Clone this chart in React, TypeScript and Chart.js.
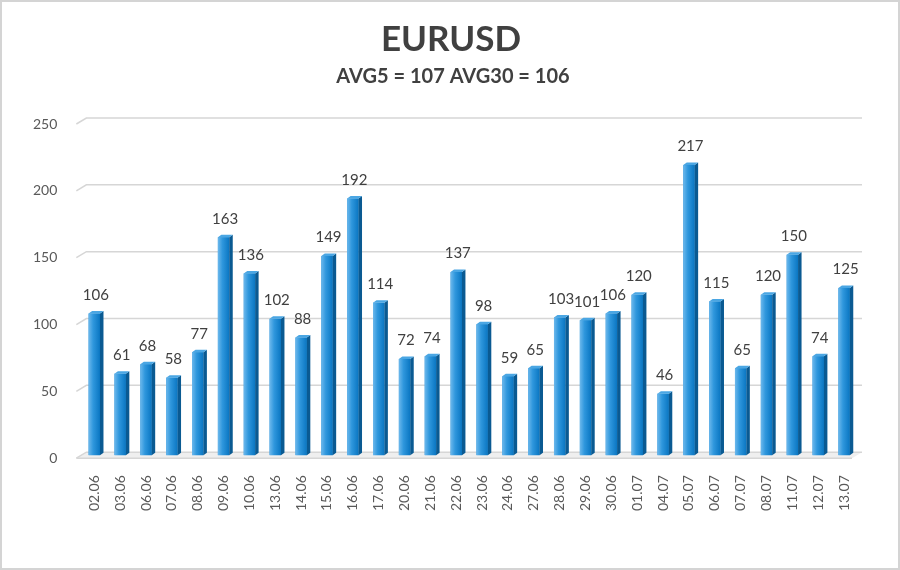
import React, { useEffect, useRef } from "react";
import { Chart, registerables } from "chart.js";

Chart.register(...registerables);

const categories = [
  "02.06", "03.06", "06.06", "07.06", "08.06", "09.06", "10.06", "13.06", "14.06", "15.06",
  "16.06", "17.06", "20.06", "21.06", "22.06", "23.06", "24.06", "27.06", "28.06", "29.06",
  "30.06", "01.07", "04.07", "05.07", "06.07", "07.07", "08.07", "11.07", "12.07", "13.07",
];
const values = [
  106, 61, 68, 58, 77, 163, 136, 102, 88, 149,
  192, 114, 72, 74, 137, 98, 59, 65, 103, 101,
  106, 120, 46, 217, 115, 65, 120, 150, 74, 125,
];
const yTicks = [0, 50, 100, 150, 200, 250];
const titleText = "EURUSD";
const subtitleText = "AVG5 = 107 AVG30 = 106";

const FONT = "Lato, 'Open Sans', sans-serif";
const DX = 5;
const DY = 3;

const framePlugin = {
  id: "frame",
  beforeDraw(chart: any) {
    const { ctx, width, height } = chart;
    ctx.save();
    ctx.fillStyle = "#ffffff";
    ctx.fillRect(0, 0, width, height);
    ctx.strokeStyle = "#d4d4d4";
    ctx.lineWidth = 2;
    ctx.strokeRect(1, 1, width - 2, height - 2);
    ctx.restore();
  },
  afterDraw(chart: any) {
    const { ctx } = chart;
    ctx.save();
    ctx.fillStyle = "#404040";
    ctx.textAlign = "center";
    ctx.textBaseline = "middle";
    ctx.font = `bold 35px ${FONT}`;
    ctx.fillText(titleText, 451, 40);
    ctx.font = `bold 20px ${FONT}`;
    ctx.fillText(subtitleText, 453, 77);
    ctx.restore();
  },
};

const wallPlugin = {
  id: "wall",
  beforeDatasetsDraw(chart: any) {
    const { ctx } = chart;
    const area = chart.chartArea;
    const yScale = chart.scales.y;
    ctx.save();
    const base0 = yScale.getPixelForValue(0);
    ctx.fillStyle = "#efefef";
    ctx.beginPath();
    ctx.moveTo(area.left - DX, base0 + DY);
    ctx.lineTo(area.right - DX, base0 + DY);
    ctx.lineTo(area.right + DX, base0 - DY);
    ctx.lineTo(area.left + DX, base0 - DY);
    ctx.closePath();
    ctx.fill();
    ctx.strokeStyle = "#d6d6d6";
    ctx.lineWidth = 1.5;
    ctx.beginPath();
    ctx.moveTo(area.left - DX, base0 + DY);
    ctx.lineTo(area.right - DX, base0 + DY);
    ctx.stroke();
    yTicks.forEach((v) => {
      const py = yScale.getPixelForValue(v);
      ctx.beginPath();
      ctx.moveTo(area.left - DX, py + DY);
      ctx.lineTo(area.left + DX, py - DY);
      ctx.lineTo(area.right + DX, py - DY);
      ctx.stroke();
    });
    ctx.restore();
  },
};

const bar3dPlugin = {
  id: "bar3d",
  afterDatasetsDraw(chart: any) {
    const { ctx } = chart;
    const meta = chart.getDatasetMeta(0);
    const d = 3.5;
    const dy = 2.5;
    ctx.save();
    meta.data.forEach((el: any, i: number) => {
      const { x, y, base, width } = el.getProps(["x", "y", "base", "width"], true);
      const l = x - width / 2;
      const r = x + width / 2;
      const g = ctx.createLinearGradient(l, 0, r, 0);
      g.addColorStop(0, "#6cb8ec");
      g.addColorStop(0.4, "#2f97dd");
      g.addColorStop(1, "#0a76c2");
      ctx.fillStyle = g;
      ctx.fillRect(l, y, width, base - y);
      ctx.fillStyle = "#0a5a92";
      ctx.beginPath();
      ctx.moveTo(r, y);
      ctx.lineTo(r + d, y - dy);
      ctx.lineTo(r + d, base - dy);
      ctx.lineTo(r, base);
      ctx.closePath();
      ctx.fill();
      ctx.fillStyle = "#4aa6e3";
      ctx.beginPath();
      ctx.moveTo(l, y);
      ctx.lineTo(l + d, y - dy);
      ctx.lineTo(r + d, y - dy);
      ctx.lineTo(r, y);
      ctx.closePath();
      ctx.fill();
      ctx.fillStyle = "#404040";
      ctx.font = `15px ${FONT}`;
      ctx.textAlign = "center";
      ctx.textBaseline = "bottom";
      ctx.fillText(String(values[i]), x + 1.5, y - 11);
    });
    ctx.restore();
  },
};

export default function App() {
  const ref = useRef<HTMLCanvasElement>(null);
  useEffect(() => {
    if (!ref.current) return;
    const chart = new Chart(ref.current, {
      type: "bar",
      data: {
        labels: categories,
        datasets: [
          {
            data: values,
            backgroundColor: "#1e8ad4",
            barPercentage: 0.44,
            categoryPercentage: 1,
          },
        ],
      },
      options: {
        animation: false,
        responsive: false,
        layout: { padding: { left: 17, right: 43, top: 121, bottom: 47 } },
        plugins: {
          legend: { display: false },
          tooltip: { enabled: false },
          title: { display: false },
        },
        scales: {
          x: {
            grid: { display: false },
            border: { display: false },
            ticks: {
              color: "#595959",
              font: { family: FONT, size: 14 },
              maxRotation: 90,
              minRotation: 90,
              autoSkip: false,
              padding: 12,
            },
          },
          y: {
            min: 0,
            max: 250,
            afterBuildTicks(scale: any) {
              scale.ticks = yTicks.map((v) => ({ value: v }));
            },
            grid: { display: false },
            border: { display: false },
            ticks: {
              color: "#595959",
              font: { family: FONT, size: 14 },
              padding: 16,
              labelOffset: 3,
            },
          },
        },
      },
      plugins: [framePlugin, wallPlugin, bar3dPlugin],
    });
    return () => chart.destroy();
  }, []);
  return (
    <div style={{ position: "fixed", left: 0, top: 0, width: 900, height: 570 }}>
      <canvas ref={ref} width={900} height={570} style={{ width: 900, height: 570 }} />
    </div>
  );
}
